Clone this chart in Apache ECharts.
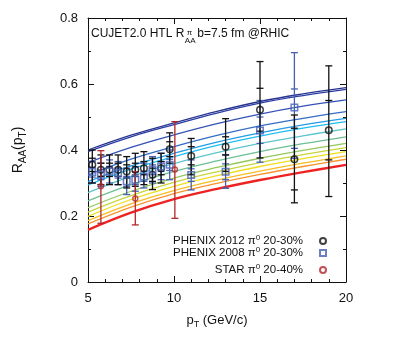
<!DOCTYPE html>
<html><head><meta charset="utf-8">
<script src="https://cdn.jsdelivr.net/npm/echarts@6/dist/echarts.min.js"></script>
<style>html,body{margin:0;padding:0;background:#fff}#c{width:395px;height:345px}</style>
</head><body><div id="c"></div>
<script>
// ---- data ----
const pT = [5, 7.5, 10, 12.5, 15, 17.5, 20];
const cujet01 = [0.400, 0.445, 0.482, 0.517, 0.547, 0.570, 0.589];
const cujet02 = [0.395, 0.440, 0.477, 0.512, 0.542, 0.565, 0.584];
const cujet03 = [0.362, 0.408, 0.446, 0.480, 0.509, 0.533, 0.552];
const cujet04 = [0.324, 0.372, 0.410, 0.444, 0.473, 0.496, 0.516];
const cujet05 = [0.304, 0.352, 0.390, 0.424, 0.452, 0.476, 0.496];
const cujet06 = [0.294, 0.342, 0.380, 0.414, 0.442, 0.466, 0.486];
const cujet07 = [0.271, 0.320, 0.359, 0.392, 0.420, 0.443, 0.464];
const cujet08 = [0.246, 0.295, 0.335, 0.367, 0.395, 0.419, 0.440];
const cujet09 = [0.225, 0.275, 0.315, 0.347, 0.375, 0.399, 0.420];
const cujet10 = [0.212, 0.262, 0.302, 0.334, 0.362, 0.386, 0.407];
const cujet11 = [0.199, 0.250, 0.290, 0.322, 0.350, 0.374, 0.395];
const cujet12 = [0.186, 0.237, 0.277, 0.309, 0.336, 0.360, 0.382];
const cujet13 = [0.176, 0.227, 0.268, 0.299, 0.326, 0.350, 0.372];
const cujet14 = [0.158, 0.210, 0.251, 0.282, 0.309, 0.333, 0.355];

const phenix12PT    = [5.25, 5.75, 6.25, 6.75, 7.25, 7.75, 8.25, 8.75, 9.25, 9.75, 11, 13, 15, 17, 19];
const phenix12Val   = [0.355, 0.340, 0.340, 0.340, 0.335, 0.340, 0.345, 0.325, 0.345, 0.402, 0.382, 0.410, 0.522, 0.372, 0.460];
const phenix12Lo    = [0.300, 0.295, 0.295, 0.295, 0.285, 0.290, 0.295, 0.280, 0.300, 0.360, 0.325, 0.335, 0.376, 0.240, 0.259];
const phenix12Hi    = [0.400, 0.385, 0.385, 0.385, 0.380, 0.390, 0.395, 0.375, 0.390, 0.452, 0.435, 0.495, 0.668, 0.506, 0.655];
const phenix12SysLo = [0.335, 0.320, 0.320, 0.320, 0.315, 0.320, 0.325, 0.305, 0.325, 0.380, 0.355, 0.385, 0.457, 0.279, 0.370];
const phenix12SysHi = [0.375, 0.360, 0.360, 0.360, 0.355, 0.360, 0.365, 0.345, 0.365, 0.425, 0.410, 0.440, 0.587, 0.466, 0.550];

const phenix08PT    = [5.25, 5.75, 6.25, 6.75, 7.25, 7.75, 8.25, 8.75, 9.25, 9.75, 11, 13, 15, 17];
const phenix08Val   = [0.333, 0.325, 0.335, 0.330, 0.305, 0.310, 0.320, 0.340, 0.350, 0.355, 0.324, 0.334, 0.459, 0.529];
const phenix08Lo    = [0.300, 0.290, 0.300, 0.295, 0.265, 0.275, 0.285, 0.300, 0.310, 0.310, 0.279, 0.284, 0.363, 0.375];
const phenix08Hi    = [0.366, 0.360, 0.370, 0.365, 0.345, 0.350, 0.360, 0.380, 0.390, 0.400, 0.370, 0.385, 0.550, 0.695];
const phenix08SysLo = [0.318, 0.310, 0.320, 0.315, 0.290, 0.295, 0.305, 0.325, 0.335, 0.338, 0.305, 0.310, 0.420, 0.405];
const phenix08SysHi = [0.348, 0.340, 0.350, 0.345, 0.320, 0.325, 0.335, 0.355, 0.365, 0.372, 0.343, 0.358, 0.500, 0.585];

const starPT  = [5.75, 7.75, 10.05];
const starVal = [0.290, 0.253, 0.341];
const starLo  = [0.178, 0.173, 0.193];
const starHi  = [0.398, 0.334, 0.486];

const xTicks = [5, 10, 15, 20];
const yTicks = [0, 0.2, 0.4, 0.6, 0.8];

// ---- styles ----
const curves = [cujet01, cujet02, cujet03, cujet04, cujet05, cujet06, cujet07,
                cujet08, cujet09, cujet10, cujet11, cujet12, cujet13, cujet14];
const curveColors = ['#27338f', '#2b3ca3', '#3352b5', '#356cc6', '#239de6', '#1fbdf0', '#5cc6cc',
                     '#6cbf92', '#93c95c', '#c6d63c', '#f0df1c', '#f7bd22', '#f7932e', '#ee2222'];
const FONT = '"Liberation Sans", Arial, sans-serif';

const chart = echarts.init(document.getElementById('c'), null, {renderer: 'canvas'});

function zip(xs, ...cols) { return xs.map((x, i) => [x, ...cols.map(c => c[i])]); }

function errRender(color, capHalf, tickHalf, lw) {
  return function (params, api) {
    const x = api.value(0);
    const lo = api.coord([x, api.value(2)]);
    const hi = api.coord([x, api.value(3)]);
    const st = {stroke: color, lineWidth: lw};
    const ch = [
      {type: 'line', shape: {x1: lo[0], y1: lo[1], x2: hi[0], y2: hi[1]}, style: st},
      {type: 'line', shape: {x1: lo[0] - capHalf, y1: lo[1], x2: lo[0] + capHalf, y2: lo[1]}, style: st},
      {type: 'line', shape: {x1: hi[0] - capHalf, y1: hi[1], x2: hi[0] + capHalf, y2: hi[1]}, style: st}
    ];
    const s1 = api.value(4), s2 = api.value(5);
    if (!isNaN(s1) && s1 != null) {
      const a = api.coord([x, s1]), b = api.coord([x, s2]);
      ch.push({type: 'line', shape: {x1: a[0] - tickHalf, y1: a[1], x2: a[0] + tickHalf, y2: a[1]}, style: st});
      ch.push({type: 'line', shape: {x1: b[0] - tickHalf, y1: b[1], x2: b[0] + tickHalf, y2: b[1]}, style: st});
    }
    return {type: 'group', children: ch};
  };
}

const series = [];
curves.forEach((c, i) => {
  series.push({
    type: 'line', data: zip(pT, c), smooth: 0.4, showSymbol: false, silent: true,
    lineStyle: {color: curveColors[i], width: i === curves.length - 1 ? 2.4 : 1.3},
    z: 2
  });
});
const blk = '#111', blu = '#4560b4', red = '#b3262a';
series.push({type: 'custom', data: zip(phenix08PT, phenix08Val, phenix08Lo, phenix08Hi, phenix08SysLo, phenix08SysHi),
  renderItem: errRender(blu, 3.5, 3.5, 1.3), z: 3});
series.push({type: 'custom', data: zip(phenix12PT, phenix12Val, phenix12Lo, phenix12Hi, phenix12SysLo, phenix12SysHi),
  renderItem: errRender(blk, 3.5, 3.5, 1.3), z: 3});
series.push({type: 'custom', data: zip(starPT, starVal, starLo, starHi),
  renderItem: errRender(red, 3.5, 3.5, 1.3), z: 3});
series.push({name: 'PHENIX 2012', type: 'scatter', data: zip(phenix12PT, phenix12Val), symbol: 'circle', symbolSize: 6.5,
  itemStyle: {color: 'rgba(0,0,0,0)', borderColor: blk, borderWidth: 1.5}, z: 5});
series.push({name: 'PHENIX 2008', type: 'scatter', data: zip(phenix08PT, phenix08Val), symbol: 'rect', symbolSize: 6.5,
  itemStyle: {color: 'rgba(0,0,0,0)', borderColor: blu, borderWidth: 1.5}, z: 5});
series.push({name: 'STAR', type: 'scatter', data: zip(starPT, starVal), symbol: 'circle', symbolSize: 5,
  itemStyle: {color: 'rgba(0,0,0,0)', borderColor: red, borderWidth: 1.4}, z: 5});

const legendText = {
  'PHENIX 2012': 'PHENIX 2012 π{sup|0} 20-30%',
  'PHENIX 2008': 'PHENIX 2008 π{sup|0} 20-30%',
  'STAR': 'STAR π{sup|0} 20-40%'
};
function mkLegend(name, top) {
  return {
    data: [name], orient: 'vertical', align: 'right', right: 63, top: top,
    itemWidth: 6, itemHeight: 6, selectedMode: false,
    formatter: n => legendText[n],
    textStyle: {fontFamily: FONT, fontSize: 11.5, color: '#111', padding: [0, 12, 0, 0], lineHeight: 14,
      rich: {sup: {fontFamily: FONT, fontSize: 8, verticalAlign: 'top', lineHeight: 9}}}
  };
}

const axCommon = {
  axisLine: {show: true, onZero: false, lineStyle: {color: '#111', width: 1}},
  splitLine: {show: false}
};

// measure text for title placement
const ctx = document.createElement('canvas').getContext('2d');
ctx.font = '12px ' + FONT;
const titleHead = 'CUJET2.0 HTL R';
const headW = ctx.measureText(titleHead).width;
const titleX = 91, titleY = 35;

chart.setOption({
  animation: false,
  grid: {left: 81, right: 49, top: 18, bottom: 63, containLabel: false},
  xAxis: [
    Object.assign({}, axCommon, {
      type: 'value', min: 5, max: 20, interval: 5, position: 'bottom',
      axisTick: {show: true, inside: true, length: 6, lineStyle: {color: '#111'}},
      minorTick: {show: true, splitNumber: 5, length: 3, lineStyle: {color: '#111'}},
      axisLabel: {margin: 10, fontFamily: FONT, fontSize: 13, color: '#111',
        customValues: xTicks, formatter: v => String(v)},
      name: 'p{s|T} (GeV/c)', nameLocation: 'middle', nameGap: 29,
      nameTextStyle: {fontFamily: FONT, fontSize: 13, color: '#111', lineHeight: 18,
        rich: {s: {fontFamily: FONT, fontSize: 9, verticalAlign: 'bottom', lineHeight: 12}}}
    }),
    Object.assign({}, axCommon, {
      type: 'value', min: 5, max: 20, interval: 5, position: 'top',
      axisTick: {show: true, inside: true, length: 6, lineStyle: {color: '#111'}},
      minorTick: {show: true, splitNumber: 5, length: 3, lineStyle: {color: '#111'}},
      axisLabel: {show: false}
    })
  ],
  yAxis: [
    Object.assign({}, axCommon, {
      type: 'value', min: 0, max: 0.8, interval: 0.2, position: 'left',
      axisTick: {show: true, inside: true, length: 6, lineStyle: {color: '#111'}},
      minorTick: {show: true, splitNumber: 2, length: 3, lineStyle: {color: '#111'}},
      axisLabel: {margin: 10, fontFamily: FONT, fontSize: 13, color: '#111',
        customValues: yTicks, formatter: v => String(+v.toFixed(1))},
      name: 'R{s|AA}(p{s|T})', nameLocation: 'middle', nameGap: 60, nameRotate: 90,
      nameTextStyle: {fontFamily: FONT, fontSize: 14, color: '#111', lineHeight: 20,
        rich: {s: {fontFamily: FONT, fontSize: 10, verticalAlign: 'bottom', lineHeight: 13}}}
    }),
    Object.assign({}, axCommon, {
      type: 'value', min: 0, max: 0.8, interval: 0.2, position: 'right',
      axisTick: {show: true, inside: true, length: 6, lineStyle: {color: '#111'}},
      minorTick: {show: true, splitNumber: 2, length: 3, lineStyle: {color: '#111'}},
      axisLabel: {show: false}
    })
  ],
  legend: [mkLegend('PHENIX 2012', 229), mkLegend('PHENIX 2008', 241), mkLegend('STAR', 258)],
  graphic: [
    {type: 'text', left: titleX, top: titleY - 7, silent: true,
      style: {text: titleHead, font: '12px ' + FONT, fill: '#111'}},
    {type: 'text', left: titleX + headW + 0.5, top: titleY + 2, silent: true,
      style: {text: 'AA', font: '8px ' + FONT, fill: '#111'}},
    {type: 'text', left: titleX + headW + 2.5, top: titleY - 6, silent: true,
      style: {text: 'π', font: '8px ' + FONT, fill: '#111'}},
    {type: 'text', left: titleX + headW + 13, top: titleY - 7, silent: true,
      style: {text: 'b=7.5 fm @RHIC', font: '12px ' + FONT, fill: '#111'}}
  ],
  series: series
});
</script>
</body></html>
